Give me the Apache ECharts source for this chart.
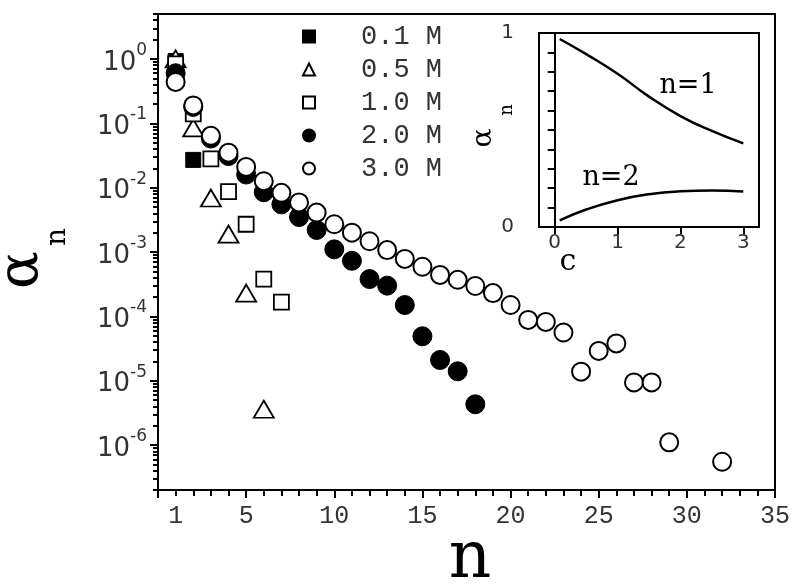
<!DOCTYPE html>
<html>
<head>
<meta charset="utf-8">
<script src="https://cdn.jsdelivr.net/npm/echarts@6/dist/echarts.min.js"></script>
<style>html,body{margin:0;padding:0;background:#fff}#c{width:800px;height:584px}</style>
</head>
<body>
<div id="c"></div>
<script>
// ---- main panel data (n, alpha_n) ----
const seriesNames = ['0.1 M', '0.5 M', '1.0 M', '2.0 M', '3.0 M'];
const nM01 = [1, 2];
const aM01 = [0.93, 0.027];
const nM05 = [1, 2, 3, 4, 5, 6];
const aM05 = [1.0, 0.085, 0.0069, 0.0019, 0.00023, 0.0000036];
const nM10 = [1, 2, 3, 4, 5, 6, 7];
const aM10 = [0.84, 0.14, 0.028, 0.0087, 0.0027, 0.00038, 0.000166];
const nM20 = [1, 2, 3, 4, 5, 6, 7, 8, 9, 10, 11, 12, 13, 14, 15, 16, 17, 18];
const aM20 = [0.6, 0.18, 0.058, 0.031, 0.016, 0.0085, 0.0055, 0.0035, 0.0022, 0.0011, 0.00073, 0.00038, 0.00030, 0.00015, 0.000049, 0.000021, 0.000014, 0.0000043];
const nM30 = [1, 2, 3, 4, 5, 6, 7, 8, 9, 10, 11, 12, 13, 14, 15, 16, 17, 18, 19, 20, 21, 22, 23, 24, 25, 26, 27, 28, 29, 32];
const aM30 = [0.44, 0.19, 0.064, 0.035, 0.021, 0.0126, 0.0083, 0.0059, 0.0041, 0.0027, 0.0020, 0.00147, 0.00107, 0.00078, 0.00059, 0.00044, 0.00037, 0.000296, 0.00023, 0.00015, 0.000088, 0.000082, 0.000056, 0.0000138, 0.000029, 0.000038, 0.0000094, 0.0000094, 0.0000011, 0.00000055];

// ---- inset data (c, alpha_n) ----
const cInset = [0.08, 0.5, 1.0, 1.5, 2.0, 2.5, 3.0];
const aInsetN1 = [0.969, 0.891, 0.79, 0.672, 0.572, 0.495, 0.431];
const aInsetN2 = [0.034, 0.09, 0.138, 0.169, 0.184, 0.188, 0.183];

// ---- ticks / labels ----
const xLabelValues = [1, 5, 10, 15, 20, 25, 30, 35];
const yMajorTicks = [1e-6, 1e-5, 1e-4, 1e-3, 1e-2, 1e-1, 1];
const yMinorTicks = [2e-7,3e-7,4e-7,5e-7,6e-7,7e-7,8e-7,9e-7,
  2e-6,3e-6,4e-6,5e-6,6e-6,7e-6,8e-6,9e-6,
  2e-5,3e-5,4e-5,5e-5,6e-5,7e-5,8e-5,9e-5,
  2e-4,3e-4,4e-4,5e-4,6e-4,7e-4,8e-4,9e-4,
  2e-3,3e-3,4e-3,5e-3,6e-3,7e-3,8e-3,9e-3,
  2e-2,3e-2,4e-2,5e-2,6e-2,7e-2,8e-2,9e-2,
  0.2,0.3,0.4,0.5,0.6,0.7,0.8,0.9,2,3,4,5];
const insetXTicks = [0, 1, 2, 3];
const insetYLabels = [0, 1];

function pairs(xs, ys) { return xs.map((x, i) => [x, ys[i]]); }

const chart = echarts.init(document.getElementById('c'), null, {renderer: 'canvas'});
const black = '#000';
const lbl = '#333';

const option = {
  backgroundColor: '#fff',
  animation: false,
  grid: [
    {left: 158, top: 14, width: 617, height: 476, show: true, borderColor: black, borderWidth: 2, backgroundColor: 'transparent'},
    {left: 539, top: 33, width: 220, height: 194, show: true, borderColor: black, borderWidth: 2, backgroundColor: '#fff'}
  ],
  legend: {
    orient: 'vertical', left: 302, top: 23, padding: 0,
    itemWidth: 12, itemHeight: 12, itemGap: 6,
    data: seriesNames,
    textStyle: {fontFamily: 'Liberation Mono', fontSize: 27, color: lbl, padding: [0, 0, 0, 41]}
  },
  xAxis: [
    {gridIndex: 0, type: 'value', min: 0, max: 35, interval: 5,
     axisLine: {show: true, lineStyle: {color: black, width: 2}},
     axisTick: {show: true, inside: false, length: 8, lineStyle: {color: black, width: 2}},
     minorTick: {show: true, splitNumber: 5, length: 6, lineStyle: {color: black, width: 2}},
     axisLabel: {customValues: xLabelValues, margin: 14, fontFamily: 'Liberation Mono', fontSize: 25, color: lbl},
     splitLine: {show: false}, minorSplitLine: {show: false}},
    {gridIndex: 1, type: 'value', min: -0.25, max: 3.25,
     axisLine: {show: true, lineStyle: {color: black, width: 2}},
     axisTick: {show: true, customValues: insetXTicks, length: 7, lineStyle: {color: black, width: 2}},
     axisLabel: {customValues: insetXTicks, margin: 6, fontFamily: 'DejaVu Sans', fontSize: 20, color: lbl},
     splitLine: {show: false}}
  ],
  yAxis: [
    {gridIndex: 0, type: 'log', logBase: 10, min: 2e-7, max: 5, position: 'left',
     axisLine: {show: true, lineStyle: {color: black, width: 2}},
     axisTick: {show: true, customValues: yMajorTicks, length: 8, lineStyle: {color: black, width: 2}},
     axisLabel: {customValues: yMajorTicks, margin: 11, color: lbl,
       formatter: function (v) { const e = Math.round(Math.log10(v)); return '{b|10}{s|' + e + '}'; },
       rich: {
         b: {fontFamily: 'DejaVu Sans', fontSize: 26, color: lbl, lineHeight: 34, verticalAlign: 'bottom'},
         s: {fontFamily: 'DejaVu Sans', fontSize: 17, color: lbl, lineHeight: 18, verticalAlign: 'top'}
       }},
     splitLine: {show: false}},
    {gridIndex: 0, type: 'log', logBase: 10, min: 2e-7, max: 5, position: 'left', offset: 0,
     axisLine: {show: false},
     axisTick: {show: true, customValues: yMinorTicks, length: 5, lineStyle: {color: black, width: 2}},
     axisLabel: {show: false}, splitLine: {show: false}},
    {gridIndex: 1, type: 'value', min: 0, max: 1, interval: 0.1, position: 'left',
     axisLine: {show: true, lineStyle: {color: black, width: 2}},
     axisTick: {show: true, length: 7, lineStyle: {color: black, width: 2}},
     axisLabel: {customValues: insetYLabels, margin: 25, fontFamily: 'DejaVu Sans', fontSize: 20, color: lbl},
     splitLine: {show: false}}
  ],
  series: [
    {name: '0.1 M', type: 'scatter', xAxisIndex: 0, yAxisIndex: 0, symbol: 'rect', symbolSize: 15,
     itemStyle: {color: black, borderColor: black, borderWidth: 1, opacity: 1}, data: pairs(nM01, aM01), z: 2},
    {name: '0.5 M', type: 'scatter', xAxisIndex: 0, yAxisIndex: 0, symbol: 'triangle', symbolSize: [20, 17],
     itemStyle: {color: '#fff', borderColor: black, borderWidth: 1.8, opacity: 1}, data: pairs(nM05, aM05), z: 3},
    {name: '1.0 M', type: 'scatter', xAxisIndex: 0, yAxisIndex: 0, symbol: 'rect', symbolSize: 15,
     itemStyle: {color: '#fff', borderColor: black, borderWidth: 1.8, opacity: 1}, data: pairs(nM10, aM10), z: 4},
    {name: '2.0 M', type: 'scatter', xAxisIndex: 0, yAxisIndex: 0, symbol: 'circle', symbolSize: 19,
     itemStyle: {color: black, borderColor: black, borderWidth: 1, opacity: 1}, data: pairs(nM20, aM20), z: 5},
    {name: '3.0 M', type: 'scatter', xAxisIndex: 0, yAxisIndex: 0, symbol: 'circle', symbolSize: 18,
     itemStyle: {color: '#fff', borderColor: black, borderWidth: 2, opacity: 1}, data: pairs(nM30, aM30), z: 6},
    {name: 'inset n=1', type: 'line', xAxisIndex: 1, yAxisIndex: 2, smooth: true, showSymbol: false, symbol: 'none',
     lineStyle: {color: black, width: 2.5}, data: pairs(cInset, aInsetN1), z: 10},
    {name: 'inset n=2', type: 'line', xAxisIndex: 1, yAxisIndex: 2, smooth: true, showSymbol: false, symbol: 'none',
     lineStyle: {color: black, width: 2.5}, data: pairs(cInset, aInsetN2), z: 10}
  ],
  graphic: [
    {type: 'text', x: 470, y: 560, style: {text: 'n', fontFamily: 'DejaVu Serif', fontSize: 66, fill: black, align: 'center', verticalAlign: 'middle'}},
    {type: 'text', x: 22, y: 270, rotation: Math.PI / 2, style: {text: 'α', fontFamily: 'DejaVu Serif', fontSize: 56, fill: black, align: 'center', verticalAlign: 'middle'}},
    {type: 'text', x: 58, y: 237, rotation: Math.PI / 2, style: {text: 'n', fontFamily: 'DejaVu Serif', fontSize: 28, fill: black, align: 'center', verticalAlign: 'middle'}},
    {type: 'text', x: 484, y: 138, rotation: Math.PI / 2, style: {text: 'α', fontFamily: 'DejaVu Serif', fontSize: 28, fill: black, align: 'center', verticalAlign: 'middle'}},
    {type: 'text', x: 507, y: 110, rotation: Math.PI / 2, style: {text: 'n', fontFamily: 'DejaVu Serif', fontSize: 18, fill: black, align: 'center', verticalAlign: 'middle'}},
    {type: 'text', x: 568, y: 262, style: {text: 'c', fontFamily: 'DejaVu Serif', fontSize: 30, fill: black, align: 'center', verticalAlign: 'middle'}},
    {type: 'text', x: 688, y: 86, style: {text: 'n=1', fontFamily: 'DejaVu Serif', fontSize: 27, fill: black, align: 'center', verticalAlign: 'middle'}},
    {type: 'text', x: 611, y: 178, style: {text: 'n=2', fontFamily: 'DejaVu Serif', fontSize: 27, fill: black, align: 'center', verticalAlign: 'middle'}}
  ]
};
chart.setOption(option);
</script>
</body>
</html>
